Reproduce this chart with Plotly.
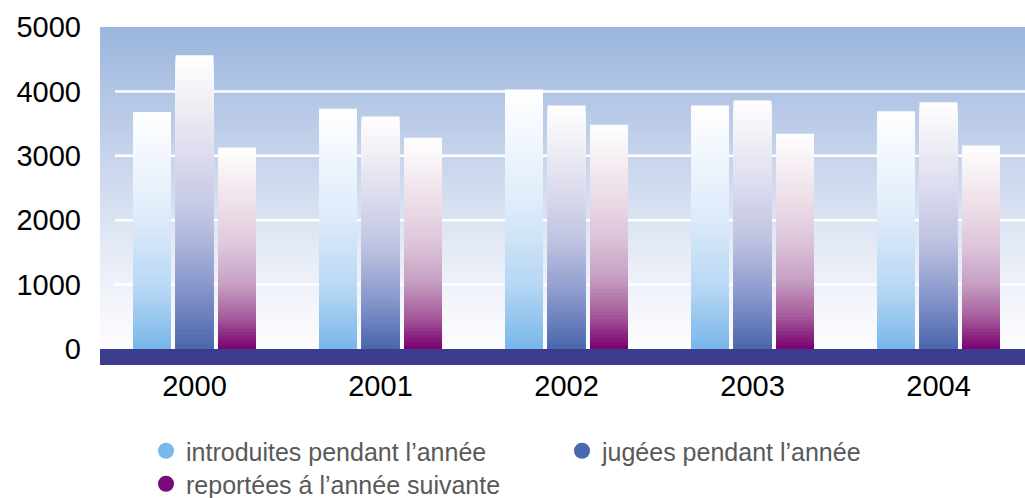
import plotly.graph_objects as go

# ---------------- data ----------------
years = ["2000", "2001", "2002", "2003", "2004"]
introduites = [3680, 3730, 4030, 3780, 3690]
jugees = [4560, 3610, 3780, 3860, 3830]
reportees = [3130, 3280, 3480, 3340, 3160]
series_names = ["introduites pendant l’année", "jugées pendant l’année", "reportées á l’année suivante"]
y_ticks = [0, 1000, 2000, 3000, 4000, 5000]

# ---------------- styles ----------------
FONT = "Liberation Sans, Arial, sans-serif"
legend_colors = ["#7ab8ea", "#4a68ae", "#7a0a78"]
# gradient stops (fraction from bottom of bar -> colour)
grad_stops = [
    [(0.0, "#78b6ea"), (0.25, "#b6d7f4"), (0.55, "#deebfa"), (0.8, "#f1f6fd"), (1.0, "#ffffff")],
    [(0.0, "#4a66ac"), (0.22, "#8a98cc"), (0.44, "#bfc3e1"), (0.66, "#dcdcee"), (0.88, "#f3f3f8"), (1.0, "#ffffff")],
    [(0.0, "#780070"), (0.15, "#a55a9a"), (0.32, "#c79fc3"), (0.5, "#dcc5da"), (0.7, "#eddee8"), (1.0, "#ffffff")],
]
bg_stops = [(0.0, "#fdfdfe"), (0.3, "#e6ebf6"), (0.6, "#c7d4ec"), (1.0, "#9cb6de")]

bar_width = 0.204
centers = [-0.2285, 0.0, 0.2285]
N = 60

W, H = 1025, 498


def hex2rgb(h):
    h = h.lstrip("#")
    return tuple(int(h[i:i + 2], 16) for i in (0, 2, 4))


def interp(stops, f):
    for (f0, c0), (f1, c1) in zip(stops[:-1], stops[1:]):
        if f <= f1:
            t = 0 if f1 == f0 else (f - f0) / (f1 - f0)
            a, b = hex2rgb(c0), hex2rgb(c1)
            return "rgb(%d,%d,%d)" % tuple(round(a[i] + (b[i] - a[i]) * t) for i in range(3))
    return stops[-1][1]


fig = go.Figure()

for s, vals in enumerate([introduites, jugees, reportees]):
    xs, ys, cols = [], [], []
    for k in range(N):
        frac = (N - k) / N
        col = interp(grad_stops[s], (N - k - 0.5) / N)
        for yr, v in zip(years, vals):
            xs.append(yr)
            ys.append(v * frac)
            cols.append(col)
    fig.add_trace(go.Bar(
        x=xs, y=ys, base=0,
        width=bar_width, offset=centers[s] - bar_width / 2,
        marker=dict(color=cols, line=dict(width=0)),
        showlegend=False, hoverinfo="skip",
    ))

# legend entries
for s in range(3):
    fig.add_trace(go.Scatter(
        x=[None], y=[None], mode="markers", name=series_names[s],
        marker=dict(symbol="circle", size=16, color=legend_colors[s]),
        legend="legend" if s < 2 else "legend2",
    ))

shapes = []
# background gradient (overlapping rects, tallest first)
NB = 80
for k in range(NB):
    top = 5000 * (NB - k) / NB
    shapes.append(dict(type="rect", xref="paper", yref="y", x0=0, x1=1, y0=0, y1=top,
                       fillcolor=interp(bg_stops, (NB - k - 0.5) / NB), line=dict(width=0), layer="below"))
# gridlines
for t in y_ticks[1:-1]:
    shapes.append(dict(type="line", xref="paper", yref="y", x0=15 / 925, x1=1, y0=t, y1=t,
                       line=dict(color="#ffffff", width=2.5), layer="below"))
# floor band
shapes.append(dict(type="rect", xref="paper", yref="y", x0=0, x1=1, y0=-250, y1=0,
                   fillcolor="#3b3c8b", line=dict(width=0), layer="below"))

fig.update_layout(
    width=W, height=H,
    margin=dict(l=100, r=0, t=27, b=133),
    paper_bgcolor="#ffffff", plot_bgcolor="#ffffff",
    barmode="overlay",
    shapes=shapes,
    font=dict(family=FONT, color="#000000"),
    xaxis=dict(type="category", range=[-0.508, 4.465], showgrid=False, zeroline=False,
               showline=False, ticks="", tickfont=dict(size=29, color="#000000"),
               ticklabelstandoff=1),
    yaxis=dict(range=[-250, 5000], tickvals=y_ticks, showgrid=False, zeroline=False,
               showline=False, ticks="", tickfont=dict(size=29, color="#000000"),
               ticklabelstandoff=18),
    legend=dict(orientation="h", xref="container", yref="container", x=146 / W, y=1 - 451 / H,
                xanchor="left", yanchor="middle", entrywidth=371, entrywidthmode="pixels",
                font=dict(size=25, color="#595959", family=FONT), bgcolor="rgba(0,0,0,0)"),
    legend2=dict(orientation="h", xref="container", yref="container", x=146 / W, y=1 - 484 / H,
                 xanchor="left", yanchor="middle",
                 font=dict(size=25, color="#595959", family=FONT), bgcolor="rgba(0,0,0,0)"),
)

fig.write_html("out.html", config={"displayModeBar": False},
               post_script="document.body.style.margin='0';document.body.style.overflow='hidden';")
